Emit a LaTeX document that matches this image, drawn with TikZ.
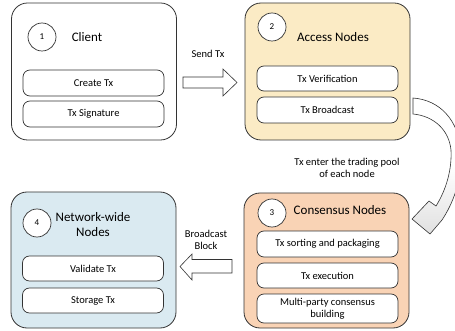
\documentclass[tikz,border=0pt]{standalone}
\usepackage{fontspec}
\setmainfont{Carlito}
\definecolor{lineC}{HTML}{333333}
\definecolor{yelC}{HTML}{FBEBC5}
\definecolor{oraC}{HTML}{F9D3B5}
\definecolor{bluC}{HTML}{DAEAF1}
\begin{document}
\begin{tikzpicture}[x=1pt,y=-1pt,
  outerbox/.style={draw=lineC, line width=0.8pt, rounded corners=16pt, minimum width=165pt, inner sep=0pt},
  innerbox/.style={draw=lineC, line width=0.7pt, fill=white, rounded corners=7pt, minimum width=141pt, minimum height=25pt, inner sep=1pt, align=center, font=\fontsize{10.5}{12}\selectfont},
  numcirc/.style={draw=lineC, line width=0.7pt, fill=white, circle, minimum size=28pt, inner sep=0pt, font=\fontsize{9}{10}\selectfont},
  title/.style={font=\fontsize{13}{15}\selectfont, align=center, inner sep=0pt},
  lbl/.style={font=\fontsize{10.5}{12.5}\selectfont, align=center, inner sep=0pt},
  blockarrow/.style={draw=lineC, line width=0.6pt, fill=white, line join=miter}
]
\useasboundingbox (0,0) rectangle (455,331);
\clip (0,0) rectangle (455,331);

% outer boxes
\node[outerbox, minimum height=137pt] (b1) at (94,71.5) {};
\node[outerbox, fill=yelC, minimum height=137pt] (b2) at (327.5,71.5) {};
\node[outerbox, fill=oraC, minimum height=135pt] (b3) at (326.5,260.5) {};
\node[outerbox, fill=bluC, minimum height=136pt] (b4) at (93.5,260) {};

% circles and titles
\node[numcirc] (c1) at (42,37) {1};
\node[numcirc] (c2) at (272,27) {2};
\node[numcirc] (c3) at (272,213) {3};
\node[numcirc] (c4) at (37,223) {4};
\node[title] (t1) at (87,37) {Client};
\node[title] (t2) at (333,37) {Access Nodes};
\node[title] (t3) at (340,210) {Consensus Nodes};
\node[title] (t4) at (93,225) {Network-wide\\Nodes};

% inner boxes
\node[innerbox, minimum height=26pt] (i11) at (93.5,83) {Create Tx};
\node[innerbox, minimum height=26pt] (i12) at (93.5,114) {Tx Signature};
\node[innerbox] (i21) at (327.5,78.5) {Tx Verification};
\node[innerbox, minimum height=26pt] (i22) at (327.5,110) {Tx Broadcast};
\node[innerbox, minimum height=26pt] (i31) at (327.5,244) {Tx sorting and packaging};
\node[innerbox] (i32) at (327.5,275.5) {Tx execution};
\node[innerbox, minimum height=29pt] (i33) at (327.5,308.5) {Multi-party consensus\\building};
\node[innerbox] (i41) at (93,268.5) {Validate Tx};
\node[innerbox] (i42) at (93,300.5) {Storage Tx};

% Send Tx arrow
\draw[blockarrow] (183,77) -- (223,77) -- (223,69) -- (237,82.5) -- (223,96) -- (223,88) -- (183,88) -- cycle;
\node[lbl] (l1) at (208,54) {Send Tx};

% Broadcast Block arrow
\draw[blockarrow] (232,259.5) -- (192,259.5) -- (192,254) -- (180,266.5) -- (192,280) -- (192,273) -- (232,273) -- cycle;
\node[lbl] (l4) at (206,240) {Broadcast\\Block};

% curved arrow
\path[draw=lineC, line width=0.6pt, line join=miter, top color=white, bottom color=black!12, middle color=white, shading angle=0]
  (413,98) .. controls (440,100) and (458,120) .. (461,150)
  .. controls (463,180) and (452,205) .. (442,220)
  -- (430,234) -- (412,219) -- (429,201) -- (436,206)
  .. controls (446,190) and (452,170) .. (451,150)
  .. controls (449,130) and (434,116) .. (413,114) -- cycle;
\node[lbl] (l2) at (347,168) {Tx enter the trading pool\\of each node};
\end{tikzpicture}
\end{document}
